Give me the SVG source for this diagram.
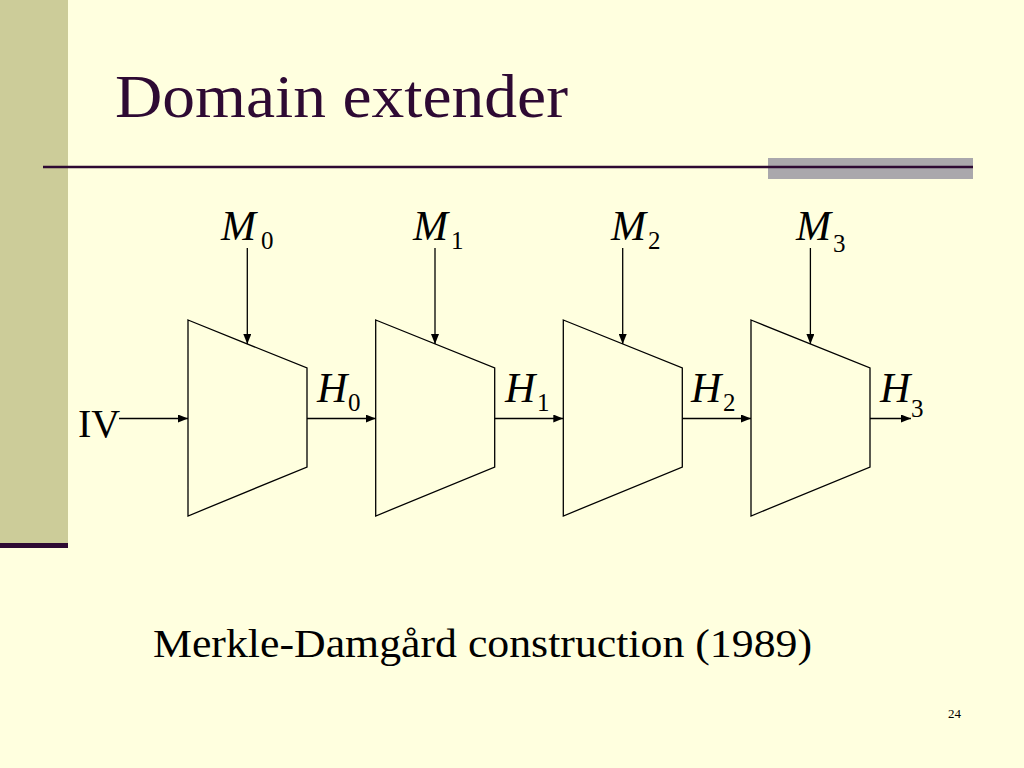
<svg xmlns="http://www.w3.org/2000/svg" width="1024" height="768" viewBox="0 0 1024 768">
<defs>
<style>
.box{fill:none;stroke:#000;stroke-width:1.3}
.wire{fill:none;stroke:#000;stroke-width:1.3}
.var{font-family:"Liberation Serif",serif;font-style:italic;font-size:42px;fill:#000}
.sub{font-family:"Liberation Serif",serif;font-size:25px;fill:#000}
.txt{font-family:"Liberation Serif",serif;fill:#000}
</style>
<marker id="ah" viewBox="0 0 10 8" refX="10" refY="4" markerWidth="10" markerHeight="8" markerUnits="userSpaceOnUse" orient="auto">
<path d="M0,0 L10,4 L0,8 Z" fill="#000"/>
</marker>
</defs>
<rect width="1024" height="768" fill="#ffffdf"/>
<rect x="0" y="0" width="68" height="543" fill="#cccc99"/>
<rect x="0" y="543" width="68" height="5" fill="#2e0a33"/>
<rect x="768" y="158" width="205" height="21" fill="#aaa8ac"/>
<line x1="43" y1="167" x2="973" y2="167" stroke="#2e0a33" stroke-width="2.5"/>
<text x="115" y="117" font-family="Liberation Serif,serif" font-size="62" fill="#2e0a33" textLength="453" lengthAdjust="spacingAndGlyphs">Domain extender</text>

<g id="f0"><polygon class="box" points="188,320 307,368 307,467 188,516"/></g>
<g id="f1"><polygon class="box" points="375.7,320 494.7,368 494.7,467 375.7,516"/></g>
<g id="f2"><polygon class="box" points="563.3,320 682.3,368 682.3,467 563.3,516"/></g>
<g id="f3"><polygon class="box" points="751,320 870,368 870,467 751,516"/></g>

<g id="connectors">
<line class="wire" x1="247.3" y1="248" x2="247.3" y2="344" marker-end="url(#ah)"/>
<line class="wire" x1="435" y1="248" x2="435" y2="344" marker-end="url(#ah)"/>
<line class="wire" x1="622.7" y1="248" x2="622.7" y2="344" marker-end="url(#ah)"/>
<line class="wire" x1="810.4" y1="248" x2="810.4" y2="344" marker-end="url(#ah)"/>
<line class="wire" x1="119" y1="418.5" x2="188" y2="418.5" marker-end="url(#ah)"/>
<line class="wire" x1="307" y1="418.5" x2="375.7" y2="418.5" marker-end="url(#ah)"/>
<line class="wire" x1="494.7" y1="418.5" x2="563.3" y2="418.5" marker-end="url(#ah)"/>
<line class="wire" x1="682.3" y1="418.5" x2="751" y2="418.5" marker-end="url(#ah)"/>
<line class="wire" x1="870" y1="418.5" x2="911" y2="418.5" marker-end="url(#ah)"/>
</g>

<g id="labels">
<text class="txt" x="78" y="437" font-size="40">IV</text>
<text class="var" x="221" y="240">M</text><text class="sub" x="261" y="249">0</text>
<text class="var" x="413" y="240">M</text><text class="sub" x="451" y="249">1</text>
<text class="var" x="611" y="240">M</text><text class="sub" x="648" y="249">2</text>
<text class="var" x="796" y="240">M</text><text class="sub" x="833" y="252">3</text>
<text class="var" x="317" y="402">H</text><text class="sub" x="348" y="411">0</text>
<text class="var" x="505" y="402">H</text><text class="sub" x="537" y="411">1</text>
<text class="var" x="691" y="402">H</text><text class="sub" x="723" y="411">2</text>
<text class="var" x="880" y="402">H</text><text class="sub" x="911" y="417">3</text>
</g>

<text class="txt" x="153" y="657" font-size="40" textLength="659" lengthAdjust="spacingAndGlyphs">Merkle-Damgård construction (1989)</text>
<text class="txt" x="948" y="718" font-size="13">24</text>
</svg>
